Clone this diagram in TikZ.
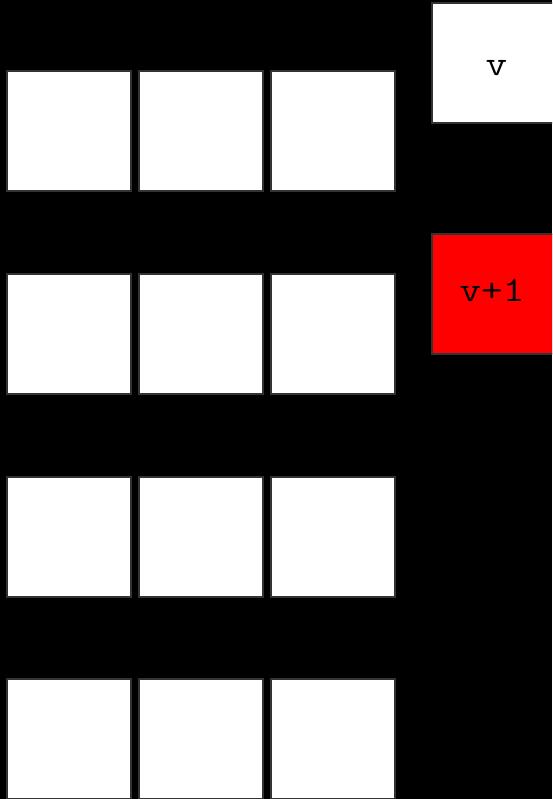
\documentclass[tikz,border=0pt]{standalone}
\usepackage{graphicx}
\definecolor{edgegrey}{HTML}{333333}
\definecolor{boxred}{HTML}{FF0000}
\tikzset{
  cell/.style={draw=edgegrey, line width=1.5pt, fill=white, minimum width=124pt, minimum height=120pt, inner sep=0pt, outer sep=0pt},
  redcell/.style={cell, fill=boxred},
  lbl/.style={font=\ttfamily\fontsize{35}{35}\selectfont, inner sep=0pt, anchor=base, text=black}
}
\begin{document}
\begin{tikzpicture}[x=1pt,y=-1pt]
\useasboundingbox (0,0) rectangle (552,799);
\fill[black] (0,0) rectangle (552,799);
\begin{scope}
\clip (0,0) rectangle (552,799);
% grid of white boxes
\foreach \r/\yc in {1/131, 2/334, 3/537, 4/739} {
  \foreach \c/\xc in {1/69, 2/201, 3/333} {
    \node[cell] (b\r\c) at (\xc,\yc) {};
  }
}
\node[cell] (vbox) at (494,63) {};
\node[redcell] (vpbox) at (494,294) {};
\end{scope}
\node[lbl] (vlbl) at (496.5,76) {\scalebox{1.2}[1]{v}};
\node[lbl] (vplbl) at (492,301) {\scalebox{1.2}[1]{v+1}};
\end{tikzpicture}
\end{document}
